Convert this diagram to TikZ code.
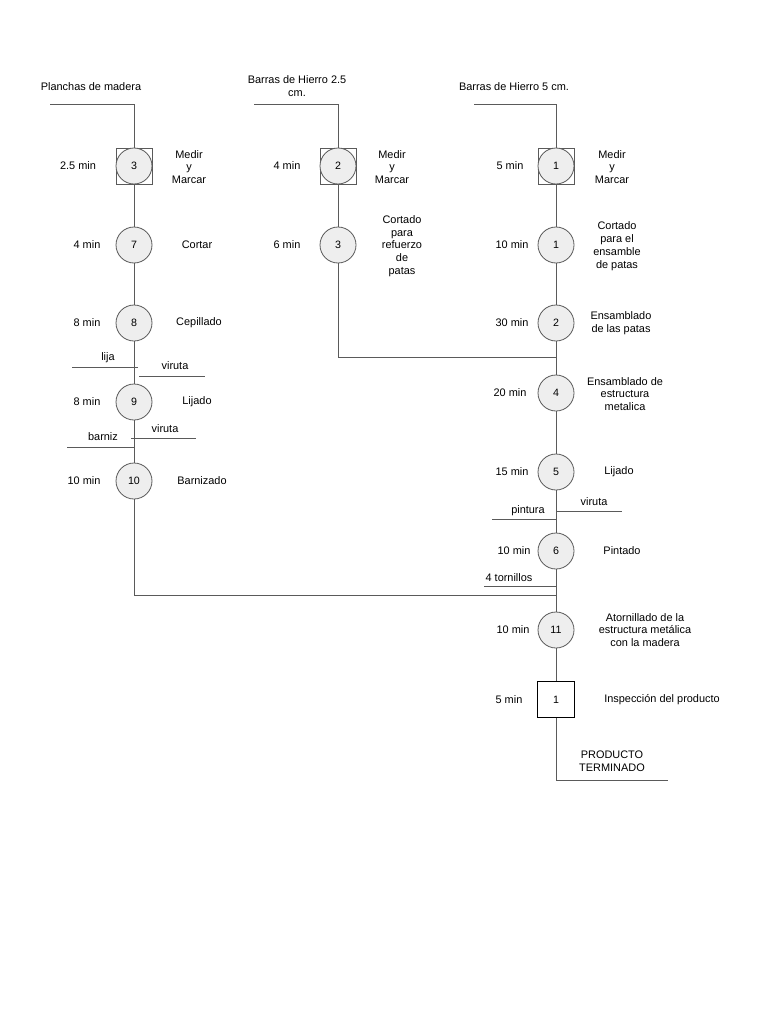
\documentclass[tikz,border=0pt]{standalone}
\usepackage{fontspec}
\setmainfont{Liberation Sans}
\definecolor{lg}{HTML}{5A5A5A}
\definecolor{opf}{HTML}{EEEEEE}
\begin{document}
\begin{tikzpicture}[x=0.75pt,y=-0.75pt,
  ln/.style={draw=lg, line width=0.6pt},
  op/.style={circle, draw=lg, fill=opf, line width=0.6pt, minimum size=27pt, inner sep=0pt, font=\fontsize{8}{9}\selectfont},
  sqr/.style={rectangle, draw=lg, fill=white, line width=0.6pt, minimum size=27pt, inner sep=0pt},
  insp/.style={rectangle, draw=black, fill=white, line width=0.9pt, minimum size=27.5pt, inner sep=0pt, font=\fontsize{8}{9}\selectfont},
  lbl/.style={font=\fontsize{8.2}{9.6}\selectfont, align=center, inner sep=0pt, text=black}]
\useasboundingbox (0,0) rectangle (768,1024);

% ---------- Left column ----------
\node[lbl] (tPM) at (91,87) {Planchas de madera};
\coordinate (pm) at (50,104);
\node[sqr] (Ls3) at (134,166) {};
\node[op] (L3) at (134,166) {3};
\node[lbl] at (78,166) {2.5 min};
\node[lbl] at (189,167) {Medir\\y\\Marcar};
\node[op] (L7) at (134,245) {7};
\node[lbl] at (87,245) {4 min};
\node[lbl] at (197,245) {Cortar};
\node[op] (L8) at (134,323) {8};
\node[lbl] at (87,323) {8 min};
\node[lbl] at (199,323) {Cepillado};
\node[op] (L9) at (134,402) {9};
\node[lbl] at (87,402) {8 min};
\node[lbl] at (197,402) {Lijado};
\node[op] (L10) at (134,481) {10};
\node[lbl] at (84,481) {10 min};
\node[lbl] at (202,481) {Barnizado};

\draw[ln] (pm) -| (Ls3);
\draw[ln] (Ls3) -- (L7);
\draw[ln] (L7) -- (L8);
\draw[ln] (L8) -- (L9);
\draw[ln] (L9) -- (L10);

\coordinate (lijaA) at (72,367); \coordinate (lijaB) at (138,367);
\draw[ln] (lijaA) -- (lijaB);
\node[lbl] at (108,358) {lija};
\coordinate (vir1A) at (139,376); \coordinate (vir1B) at (205,376);
\draw[ln] (vir1A) -- (vir1B);
\node[lbl] at (175,366) {viruta};
\coordinate (vir2A) at (131,438); \coordinate (vir2B) at (196,438);
\draw[ln] (vir2A) -- (vir2B);
\node[lbl] at (165,429) {viruta};
\coordinate (barA) at (67,447); \coordinate (barB) at (134,447);
\draw[ln] (barA) -- (barB);
\node[lbl] at (103,437) {barniz};

% ---------- Middle column ----------
\node[lbl] at (297,80) {Barras de Hierro 2.5};
\node[lbl] at (297,94) {cm.};
\coordinate (bh25) at (254,104);
\node[sqr] (Ms2) at (338,166) {};
\node[op] (M2) at (338,166) {2};
\node[lbl] at (287,166) {4 min};
\node[lbl] at (392,167) {Medir\\y\\Marcar};
\node[op] (M3) at (338,245) {3};
\node[lbl] at (287,245) {6 min};
\node[lbl] at (402,246) {Cortado\\para\\refuerzo\\de\\patas};
\draw[ln] (bh25) -| (Ms2);
\draw[ln] (Ms2) -- (M3);

% ---------- Right column ----------
\node[lbl] at (514,87) {Barras de Hierro 5 cm.};
\coordinate (bh5) at (474,104);
\node[sqr] (Rs1) at (556,166) {};
\node[op] (R1) at (556,166) {1};
\node[lbl] at (510,166) {5 min};
\node[lbl] at (612,167) {Medir\\y\\Marcar};
\node[op] (R1b) at (556,245) {1};
\node[lbl] at (512,245) {10 min};
\node[lbl] at (617,246) {Cortado\\para el\\ensamble\\de patas};
\node[op] (R2) at (556,323) {2};
\node[lbl] at (512,323) {30 min};
\node[lbl] at (621,323) {Ensamblado\\de las patas};
\node[op] (R4) at (556,393) {4};
\node[lbl] at (510,393) {20 min};
\node[lbl] at (625,394) {Ensamblado de\\estructura\\metalica};
\node[op] (R5) at (556,472) {5};
\node[lbl] at (512,472) {15 min};
\node[lbl] at (619,472) {Lijado};
\node[op] (R6) at (556,551) {6};
\node[lbl] at (514,551) {10 min};
\node[lbl] at (622,551) {Pintado};
\node[op] (R11) at (556,630) {11};
\node[lbl] at (513,630) {10 min};
\node[lbl] at (645,630) {Atornillado de la\\estructura metálica\\con la madera};
\node[insp] (I1) at (556,699.5) {1};
\node[lbl] at (509,700) {5 min};
\node[lbl] at (662,700) {Inspección del producto};

\draw[ln] (bh5) -| (Rs1);
\draw[ln] (Rs1) -- (R1b);
\draw[ln] (R1b) -- (R2);
\draw[ln] (R2) -- (R4);
\draw[ln] (R4) -- (R5);
\draw[ln] (R5) -- (R6);
\draw[ln] (R6) -- (R11);
\draw[ln] (R11) -- (I1);

% joins
\coordinate (j2) at (556,357);
\draw[ln] (M3) |- (j2);
\coordinate (j1) at (556,595);
\draw[ln] (L10) |- (j1);

\coordinate (virRA) at (556,511); \coordinate (virRB) at (622,511);
\draw[ln] (virRA) -- (virRB);
\node[lbl] at (594,502) {viruta};
\coordinate (pinA) at (492,519); \coordinate (pinB) at (556,519);
\draw[ln] (pinA) -- (pinB);
\node[lbl] at (528,511) {pintura};
\coordinate (torA) at (484,586); \coordinate (torB) at (556,586);
\draw[ln] (torA) -- (torB);
\node[lbl] at (509,578) {4 tornillos};

\coordinate (fin) at (668,780);
\draw[ln] (I1) |- (fin);
\node[lbl] at (612,761) {PRODUCTO\\TERMINADO};
\end{tikzpicture}
\end{document}
